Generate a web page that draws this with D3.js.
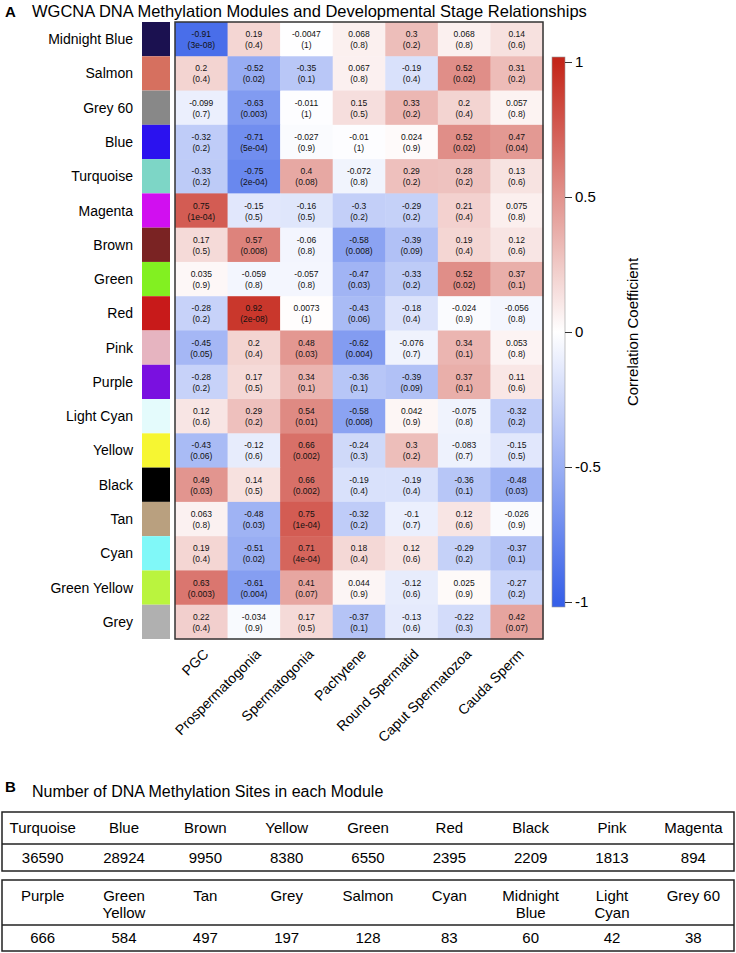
<!DOCTYPE html>
<html>
<head>
<meta charset="utf-8">
<script src="https://cdn.jsdelivr.net/npm/d3@7"></script>
<style>
  body { margin: 0; background: #fff; }
  text { font-family: "Liberation Sans", Arial, sans-serif; }
</style>
</head>
<body>
<div id="chart"></div>
<script>
// modules (rows of the heatmap) and their swatch colours
var modules = ["Midnight Blue", "Salmon", "Grey 60", "Blue", "Turquoise", "Magenta", "Brown", "Green", "Red",
  "Pink", "Purple", "Light Cyan", "Yellow", "Black", "Tan", "Cyan", "Green Yellow", "Grey"];
var moduleColors = ["#1b1150", "#d6705f", "#888888", "#2b12ef", "#7dd6c6", "#d10ff0", "#7a2323", "#82f021", "#c81a1a",
  "#e6b4c0", "#7a10e0", "#e4fbfc", "#f6f632", "#000000", "#b9a07f", "#80f8f8", "#baf43e", "#b0b0b0"];

// developmental stages (columns)
var stages = ["PGC", "Prospermatogonia", "Spermatogonia", "Pachytene", "Round Spermatid", "Caput Spermatozoa", "Cauda Sperm"];

// correlation per module row
var corr = [
  [-0.91, 0.19, -0.0047, 0.068, 0.3, 0.068, 0.14],
  [0.2, -0.52, -0.35, 0.067, -0.19, 0.52, 0.31],
  [-0.099, -0.63, -0.011, 0.15, 0.33, 0.2, 0.057],
  [-0.32, -0.71, -0.027, -0.01, 0.024, 0.52, 0.47],
  [-0.33, -0.75, 0.4, -0.072, 0.29, 0.28, 0.13],
  [0.75, -0.15, -0.16, -0.3, -0.29, 0.21, 0.075],
  [0.17, 0.57, -0.06, -0.58, -0.39, 0.19, 0.12],
  [0.035, -0.059, -0.057, -0.47, -0.33, 0.52, 0.37],
  [-0.28, 0.92, 0.0073, -0.43, -0.18, -0.024, -0.056],
  [-0.45, 0.2, 0.48, -0.62, -0.076, 0.34, 0.053],
  [-0.28, 0.17, 0.34, -0.36, -0.39, 0.37, 0.11],
  [0.12, 0.29, 0.54, -0.58, 0.042, -0.075, -0.32],
  [-0.43, -0.12, 0.66, -0.24, 0.3, -0.083, -0.15],
  [0.49, 0.14, 0.66, -0.19, -0.19, -0.36, -0.48],
  [0.063, -0.48, 0.75, -0.32, -0.1, 0.12, -0.026],
  [0.19, -0.51, 0.71, 0.18, 0.12, -0.29, -0.37],
  [0.63, -0.61, 0.41, 0.044, -0.12, 0.025, -0.27],
  [0.22, -0.034, 0.17, -0.37, -0.13, -0.22, 0.42]
];

// p-values, as printed
var pvals = [
  ["3e-08", "0.4", "1", "0.8", "0.2", "0.8", "0.6"],
  ["0.4", "0.02", "0.1", "0.8", "0.4", "0.02", "0.2"],
  ["0.7", "0.003", "1", "0.5", "0.2", "0.4", "0.8"],
  ["0.2", "5e-04", "0.9", "1", "0.9", "0.02", "0.04"],
  ["0.2", "2e-04", "0.08", "0.8", "0.2", "0.2", "0.6"],
  ["1e-04", "0.5", "0.5", "0.2", "0.2", "0.4", "0.8"],
  ["0.5", "0.008", "0.8", "0.008", "0.09", "0.4", "0.6"],
  ["0.9", "0.8", "0.8", "0.03", "0.2", "0.02", "0.1"],
  ["0.2", "2e-08", "1", "0.06", "0.4", "0.9", "0.8"],
  ["0.05", "0.4", "0.03", "0.004", "0.7", "0.1", "0.8"],
  ["0.2", "0.5", "0.1", "0.1", "0.09", "0.1", "0.6"],
  ["0.6", "0.2", "0.01", "0.008", "0.9", "0.8", "0.2"],
  ["0.06", "0.6", "0.002", "0.3", "0.2", "0.7", "0.5"],
  ["0.03", "0.5", "0.002", "0.4", "0.4", "0.1", "0.03"],
  ["0.8", "0.03", "1e-04", "0.2", "0.7", "0.6", "0.9"],
  ["0.4", "0.02", "4e-04", "0.4", "0.6", "0.2", "0.1"],
  ["0.003", "0.004", "0.07", "0.9", "0.6", "0.9", "0.2"],
  ["0.4", "0.9", "0.5", "0.1", "0.6", "0.3", "0.07"]
];

var colorbarTicks = [1, 0.5, 0, -0.5, -1];

// panel B tables
var tableNames1 = ["Turquoise", "Blue", "Brown", "Yellow", "Green", "Red", "Black", "Pink", "Magenta"];
var tableCounts1 = [36590, 28924, 9950, 8380, 6550, 2395, 2209, 1813, 894];
var tableNames2 = ["Purple", "Green\nYellow", "Tan", "Grey", "Salmon", "Cyan", "Midnight\nBlue", "Light\nCyan", "Grey 60"];
var tableCounts2 = [666, 584, 497, 197, 128, 83, 60, 42, 38];


var width = 736,
    height = 953;

var svg = d3.select('#chart')
      .append('svg')
      .attr('width', width)
      .attr('height', height);

var color = d3.scaleLinear()
      .domain([-1, 0, 1])
      .range(["#3760e8", "#ffffff", "#c4261a"]);

// ---- panel A title
svg.append("text").attr("x", 5).attr("y", 17)
      .style("font-size", "15px").style("font-weight", "bold").text("A");
svg.append("text").attr("x", 32).attr("y", 17)
      .style("font-size", "16.5px").text("WGCNA DNA Methylation Modules and Developmental Stage Relationships");

var x = d3.scaleBand().domain(stages).range([175, 543]);
var y = d3.scaleBand().domain(modules).range([22, 639]);

// swatches + labels
svg.selectAll('rect.swatch')
      .data(modules)
      .enter()
      .append('rect')
      .attr('class', 'swatch')
      .attr('x', 142)
      .attr('y', d => y(d))
      .attr('width', 28)
      .attr('height', y.bandwidth())
      .attr('fill', (d, i) => moduleColors[i]);

svg.selectAll('text.rowlab')
      .data(modules)
      .enter()
      .append('text')
      .attr('class', 'rowlab')
      .attr('x', 133)
      .attr('y', d => y(d) + y.bandwidth() / 2 + 5)
      .attr('text-anchor', 'end')
      .style('font-size', '14px')
      .text(d => d);

// cells
var cells = [];
corr.forEach((row, i) => row.forEach((v, j) => cells.push({ r: modules[i], c: stages[j], v: v, p: pvals[i][j] })));

var cell = svg.selectAll('g.cell')
      .data(cells)
      .enter()
      .append('g')
      .attr('class', 'cell');

cell.append('rect')
      .attr('x', d => x(d.c))
      .attr('y', d => y(d.r))
      .attr('width', x.bandwidth() + 0.5)
      .attr('height', y.bandwidth() + 0.5)
      .attr('fill', d => color(d.v));

cell.append('text')
      .attr('x', d => x(d.c) + x.bandwidth() / 2)
      .attr('y', d => y(d.r) + y.bandwidth() / 2 - 2)
      .attr('text-anchor', 'middle')
      .style('font-size', '8.5px')
      .style('fill', '#111')
      .text(d => String(d.v));

cell.append('text')
      .attr('x', d => x(d.c) + x.bandwidth() / 2)
      .attr('y', d => y(d.r) + y.bandwidth() / 2 + 9)
      .attr('text-anchor', 'middle')
      .style('font-size', '8.5px')
      .style('fill', '#111')
      .text(d => "(" + d.p + ")");

// heatmap border
svg.append('rect')
      .attr('x', 175).attr('y', 22)
      .attr('width', 368).attr('height', 617)
      .attr('fill', 'none')
      .attr('stroke', '#333')
      .attr('stroke-width', 1.5);

// column labels (rotated)
svg.selectAll('text.collab')
      .data(stages)
      .enter()
      .append('text')
      .attr('class', 'collab')
      .attr('text-anchor', 'end')
      .attr('transform', d => "translate(" + (x(d) + x.bandwidth() / 2 + 8) + ",655) rotate(-45)")
      .style('font-size', '14px')
      .text(d => d);

// ---- colour bar
var cb = d3.scaleLinear().domain([1, -1]).range([62, 602]);
var defs = svg.append('defs');
var grad = defs.append('linearGradient').attr('id', 'cbgrad')
      .attr('x1', 0).attr('y1', 0).attr('x2', 0).attr('y2', 1);
var cbTop = 57, cbBot = 607;
d3.range(20, -21, -1).forEach(k => {
  var v = k / 20;
  grad.append('stop')
      .attr('offset', ((cb(v) - cbTop) / (cbBot - cbTop) * 100) + '%')
      .attr('stop-color', color(v));
});
svg.append('rect')
      .attr('x', 552).attr('y', cbTop)
      .attr('width', 13).attr('height', cbBot - cbTop)
      .attr('fill', 'url(#cbgrad)')
      .attr('stroke', '#999')
      .attr('stroke-width', 0.6);

var cbAxis = d3.axisRight(cb).tickValues(colorbarTicks).tickSize(7).tickFormat(d => String(d));
var cbg = svg.append('g').attr('transform', 'translate(565,0)').call(cbAxis);
cbg.select('.domain').remove();
cbg.selectAll('line').attr('stroke', '#333');
cbg.selectAll('text').style('font-size', '15px').attr('x', 10).style('font-family', '"Liberation Sans", Arial, sans-serif');

svg.append('text')
      .attr('transform', 'translate(638,332) rotate(-90)')
      .attr('text-anchor', 'middle')
      .style('font-size', '15px')
      .text('Correlation Coefficient');

// ---- panel B
svg.append("text").attr("x", 5).attr("y", 792)
      .style("font-size", "15px").style("font-weight", "bold").text("B");
svg.append("text").attr("x", 32).attr("y", 797)
      .style("font-size", "16px").text("Number of DNA Methylation Sites in each Module");

function drawTable(names, counts, top, mid, bottom) {
  var tx = d3.scaleBand().domain(d3.range(names.length)).range([2, 734]);
  var g = svg.append('g');
  g.append('rect')
      .attr('x', 2).attr('y', top)
      .attr('width', 732).attr('height', bottom - top)
      .attr('fill', 'none').attr('stroke', '#222').attr('stroke-width', 1.5);
  g.append('line')
      .attr('x1', 2).attr('x2', 734).attr('y1', mid).attr('y2', mid)
      .attr('stroke', '#222').attr('stroke-width', 1.5);
  names.forEach((n, i) => {
    var lines = n.split("\n");
    var t = g.append('text')
        .attr('x', tx(i) + tx.bandwidth() / 2)
        .attr('y', top + 21)
        .attr('text-anchor', 'middle')
        .style('font-size', '15px');
    lines.forEach((l, k) => {
      t.append('tspan').attr('x', tx(i) + tx.bandwidth() / 2).attr('dy', k ? 17 : 0).text(l);
    });
  });
  g.selectAll('text.count')
      .data(counts)
      .enter()
      .append('text')
      .attr('class', 'count')
      .attr('x', (d, i) => tx(i) + tx.bandwidth() / 2)
      .attr('y', (mid + bottom) / 2 + 5)
      .attr('text-anchor', 'middle')
      .style('font-size', '15px')
      .text(d => d);
}

drawTable(tableNames1, tableCounts1, 812, 844, 871);
drawTable(tableNames2, tableCounts2, 880, 925, 951);
</script>
</body>
</html>
